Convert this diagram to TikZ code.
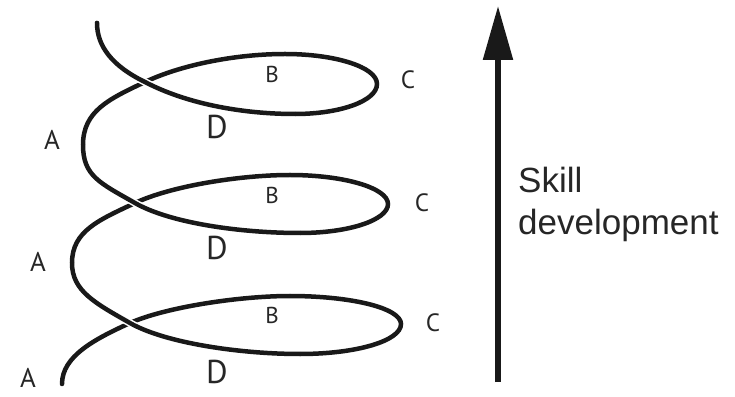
\documentclass[tikz,border=0pt]{standalone}
\usepackage{fontspec}
\setmainfont{Liberation Sans}
\newfontfamily\lblfont{PT Sans}
\usetikzlibrary{arrows.meta}
\begin{document}
\begin{tikzpicture}[x=1pt,y=1pt,
  spiral/.style={line width=4.5pt,line cap=round,black!90},
  over/.style={spiral,preaction={draw=white,line width=7.5pt,line cap=butt}},
  lbl/.style={inner sep=0pt,anchor=center,text=black!85},
  skill/.style={inner sep=0pt,anchor=base west,font=\fontsize{35}{40}\selectfont,text=black!85}]
\useasboundingbox (0,0) rectangle (735,396);
% key points of the spiral
\coordinate (S) at (97,373);
\coordinate (X1) at (145,314);
\coordinate (b1) at (295,282);
\coordinate (r1) at (377,312);
\coordinate (t1) at (285,342);
\coordinate (A1) at (83,251);
\coordinate (X2) at (135,193);
\coordinate (b2) at (300,163);
\coordinate (r2) at (388,192);
\coordinate (t2) at (290,221);
\coordinate (A2) at (72,133);
\coordinate (X3) at (130,73);
\coordinate (b3) at (300,42);
\coordinate (r3) at (401,72);
\coordinate (t3) at (290,100);
\coordinate (E) at (62,12);
% whole spiral
\draw[spiral] (S) .. controls (97,350) and (112,330) .. (X1)
  .. controls (185,293) and (240,282) .. (b1)
  .. controls (340,282) and (377,295) .. (r1)
  .. controls (377,329) and (335,342) .. (t1)
  .. controls (235,342) and (181,331) .. (X1)
  .. controls (109,297) and (83,285) .. (A1)
  .. controls (83,220) and (100,213) .. (X2)
  .. controls (170,173) and (240,163) .. (b2)
  .. controls (349,163) and (388,176) .. (r2)
  .. controls (388,208) and (344,221) .. (t2)
  .. controls (240,221) and (171,210) .. (X2)
  .. controls (99,176) and (72,165) .. (A2)
  .. controls (72,105) and (95,93) .. (X3)
  .. controls (165,53) and (240,42) .. (b3)
  .. controls (356,42) and (401,55) .. (r3)
  .. controls (401,88) and (351,100) .. (t3)
  .. controls (240,100) and (166,89) .. (X3)
  .. controls (95,57) and (62,40) .. (E);
% strands passing over at the crossings
\draw[over] (S) .. controls (97,350) and (112,330) .. (X1)
  .. controls (185,293) and (240,282) .. (b1);
\draw[over] (A1) .. controls (83,220) and (100,213) .. (X2)
  .. controls (170,173) and (240,163) .. (b2);
\draw[over] (A2) .. controls (72,105) and (95,93) .. (X3)
  .. controls (165,53) and (240,42) .. (b3);
% labels
\node[lbl,font=\lblfont\fontsize{27}{27}\selectfont] (la1) at (52,256) {A};
\node[lbl,font=\lblfont\fontsize{27}{27}\selectfont] (la2) at (38,134) {A};
\node[lbl,font=\lblfont\fontsize{27}{27}\selectfont] (la3) at (28,18) {A};
\node[lbl,font=\lblfont\fontsize{23}{23}\selectfont] (lb1) at (272,322) {B};
\node[lbl,font=\lblfont\fontsize{23}{23}\selectfont] (lb2) at (272,201) {B};
\node[lbl,font=\lblfont\fontsize{23}{23}\selectfont] (lb3) at (272,81) {B};
\node[lbl,font=\lblfont\fontsize{25}{25}\selectfont] (lc1) at (408,316) {C};
\node[lbl,font=\lblfont\fontsize{25}{25}\selectfont] (lc2) at (422,193) {C};
\node[lbl,font=\lblfont\fontsize{25}{25}\selectfont] (lc3) at (433,73) {C};
\node[lbl,font=\lblfont\fontsize{33}{33}\selectfont] (ld1) at (217,269) {D};
\node[lbl,font=\lblfont\fontsize{33}{33}\selectfont] (ld2) at (217,148) {D};
\node[lbl,font=\lblfont\fontsize{33}{33}\selectfont] (ld3) at (217,24) {D};
% skill arrow
\coordinate (abot) at (498,14);
\coordinate (atop) at (498,390);
\draw[line width=5.5pt,black!90,-{Triangle[width=29pt,length=54pt]}] (abot) -- (atop);
\node[skill] (sk1) at (518,203) {Skill};
\node[skill] (sk2) at (518,161) {development};
\end{tikzpicture}
\end{document}
